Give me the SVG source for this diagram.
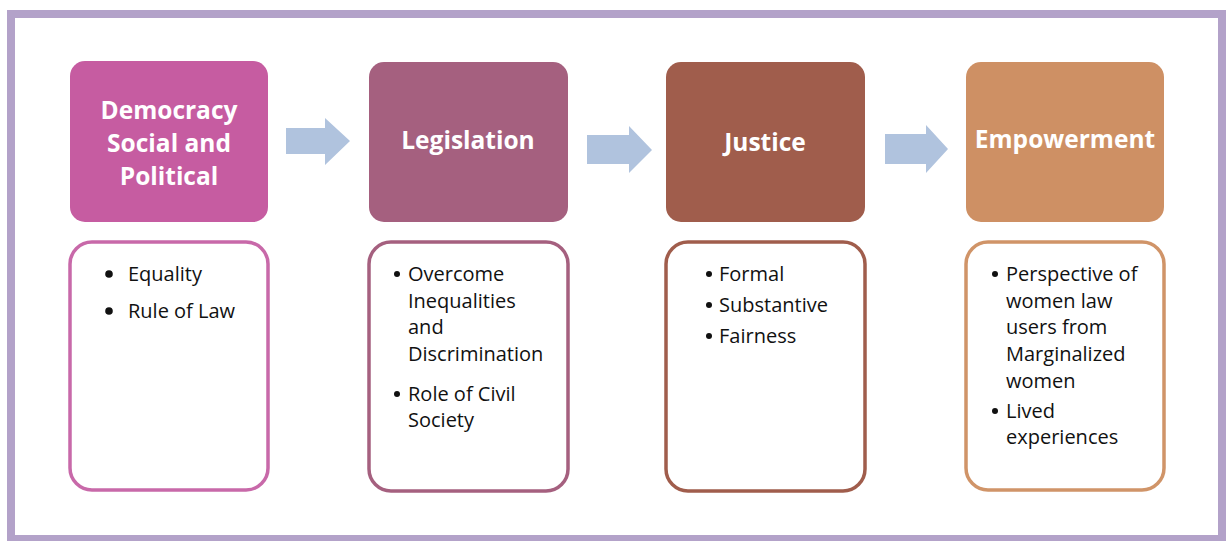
<svg xmlns="http://www.w3.org/2000/svg" width="1228" height="541" viewBox="0 0 1228 541">
  <style>
    .frame { fill: #ffffff; stroke: #B3A2C9; stroke-width: 8; }
    .head { stroke: none; }
    .head-text { font-family: "Open Sans", "Noto Sans", "Liberation Sans", sans-serif; font-weight: bold; font-size: 24.5px; fill: #ffffff; text-anchor: middle; }
    .card { fill: #ffffff; stroke-width: 3.5; }
    .item { font-family: "Open Sans", "Noto Sans", "Liberation Sans", sans-serif; font-size: 20px; fill: #111111; }
    .dot { fill: #111111; }
    .flow { fill: #B0C3DE; }
  </style>

  <!-- outer frame -->
  <rect class="frame" x="11" y="14" width="1211" height="525"/>

  <!-- stage 1 -->
  <g id="democracy">
    <rect class="head" x="70" y="61" width="198" height="161" rx="15" fill="#C65CA1"/>
    <text class="head-text" x="169" y="119">Democracy</text>
    <text class="head-text" x="169" y="152">Social and</text>
    <text class="head-text" x="169" y="185">Political</text>
  </g>
  <g id="democracy-points">
    <rect class="card" x="70" y="242" width="198" height="248" rx="22" stroke="#C869A9"/>
    <circle class="dot" cx="109" cy="274" r="3.8"/>
    <text class="item" x="128" y="281">Equality</text>
    <circle class="dot" cx="109" cy="311" r="3.8"/>
    <text class="item" x="128" y="318">Rule of Law</text>
  </g>

  <!-- stage 2 -->
  <g id="legislation">
    <rect class="head" x="369" y="62" width="199" height="160" rx="15" fill="#A5607F"/>
    <text class="head-text" x="468" y="149">Legislation</text>
  </g>
  <g id="legislation-points">
    <rect class="card" x="369" y="242" width="199" height="249" rx="22" stroke="#A5607F"/>
    <circle class="dot" cx="397" cy="274" r="3"/>
    <text class="item" x="408" y="281">Overcome</text>
    <text class="item" x="408" y="308">Inequalities</text>
    <text class="item" x="408" y="334">and</text>
    <text class="item" x="408" y="361">Discrimination</text>
    <circle class="dot" cx="397" cy="394" r="3"/>
    <text class="item" x="408" y="401">Role of Civil</text>
    <text class="item" x="408" y="427">Society</text>
  </g>

  <!-- stage 3 -->
  <g id="justice">
    <rect class="head" x="666" y="62" width="199" height="160" rx="15" fill="#A05D4C"/>
    <text class="head-text" x="765" y="151">Justice</text>
  </g>
  <g id="justice-points">
    <rect class="card" x="666" y="242" width="199" height="249" rx="22" stroke="#A05D4C"/>
    <circle class="dot" cx="709" cy="274" r="3"/>
    <text class="item" x="719" y="281">Formal</text>
    <circle class="dot" cx="709" cy="305" r="3"/>
    <text class="item" x="719" y="312">Substantive</text>
    <circle class="dot" cx="709" cy="336" r="3"/>
    <text class="item" x="719" y="343">Fairness</text>
  </g>

  <!-- stage 4 -->
  <g id="empowerment">
    <rect class="head" x="966" y="62" width="198" height="160" rx="15" fill="#CE9064"/>
    <text class="head-text" x="1065" y="148">Empowerment</text>
  </g>
  <g id="empowerment-points">
    <rect class="card" x="966" y="242" width="198" height="248" rx="22" stroke="#D09468"/>
    <circle class="dot" cx="995" cy="274" r="3"/>
    <text class="item" x="1006" y="281">Perspective of</text>
    <text class="item" x="1006" y="308">women law</text>
    <text class="item" x="1006" y="334">users from</text>
    <text class="item" x="1006" y="361">Marginalized</text>
    <text class="item" x="1006" y="388">women</text>
    <circle class="dot" cx="995" cy="411" r="3"/>
    <text class="item" x="1006" y="418">Lived</text>
    <text class="item" x="1006" y="444">experiences</text>
  </g>

  <!-- block arrows between stages -->
  <g id="connectors">
    <polygon class="flow" points="286,128 325,128 325,118 350,141 325,165 325,154 286,154"/>
    <polygon class="flow" points="587,135 629,135 629,126 652,150 629,173 629,164 587,164"/>
    <polygon class="flow" points="885,134 926,134 926,125 948,149 926,173 926,164 885,164"/>
  </g>
</svg>
